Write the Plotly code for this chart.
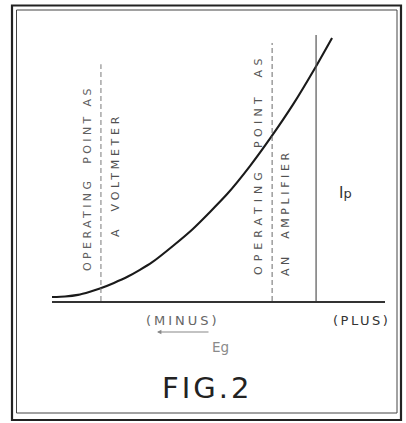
import plotly.graph_objects as go

# Canvas size (body margin is removed by the post script, so no offset)
W, H = 406, 423
OFF = 0
FW, FH = W - OFF, H - OFF

# Curve data (arbitrary units): grid voltage Eg vs plate current Ip
eg = [0.0, 0.39, 0.78, 1.14, 1.44, 1.86, 2.28, 2.64, 3.00, 3.63, 4.23, 5.26, 5.95, 6.55, 7.24, 7.90, 8.41]
ip = [0.15, 0.17, 0.23, 0.35, 0.47, 0.68, 0.92, 1.17, 1.45, 2.07, 2.71, 4.02, 5.08, 6.11, 7.39, 8.76, 9.89]

# Vertical reference lines: (Eg position, top of line)
voltmeter_eg, voltmeter_top = 1.47, 8.9
amplifier_eg, amplifier_top = 6.61, 9.7
ip_axis_eg, ip_axis_top = 7.93, 10.1


def px(x):
    return (x - OFF) / FW


def py(y):
    return 1 - (y - OFF) / FH


fig = go.Figure()

fig.add_trace(go.Scatter(x=eg, y=ip, mode="lines",
                         line=dict(color="#1a1a1a", width=2.1, shape="spline", smoothing=0.6),
                         hoverinfo="skip", showlegend=False))

for xv, top, dash, col, w in [
    (voltmeter_eg, voltmeter_top, "5px,3px", "#7a7a7a", 1),
    (amplifier_eg, amplifier_top, "5px,3px", "#6a6a6a", 1),
    (ip_axis_eg, ip_axis_top, "solid", "#555555", 1.2),
]:
    fig.add_trace(go.Scatter(x=[xv, xv], y=[0, top], mode="lines",
                             line=dict(color=col, width=w, dash=dash),
                             hoverinfo="skip", showlegend=False))

# Frame (double border)
fig.add_shape(type="rect", xref="paper", yref="paper",
              x0=px(12), x1=px(401), y0=py(420), y1=py(5.5),
              line=dict(color="#222222", width=2.2))
fig.add_shape(type="rect", xref="paper", yref="paper",
              x0=px(16.5), x1=px(397), y0=py(413), y1=py(10),
              line=dict(color="#444444", width=1))

font = "DejaVu Sans"


def label(text, x, y, size, color, angle=0, ls=0):
    t = text
    if ls:
        t = f'<span style="letter-spacing:{ls}px">{text}</span>'
    fig.add_annotation(text=t, x=px(x), y=py(y), xref="paper", yref="paper",
                       showarrow=False, textangle=angle,
                       xanchor="center", yanchor="middle",
                       font=dict(family=font, size=size, color=color))


label("OPERATING&nbsp;&nbsp;POINT&nbsp;AS", 88, 178, 11, "#606060", -90, 3.4)
label("A&nbsp;&nbsp;VOLTMETER", 115, 175, 11, "#505050", -90, 3.7)
label("OPERATING", 258, 221, 11, "#555555", -90, 5)
label("POINT&nbsp;&nbsp;AS", 258, 101, 11, "#555555", -90, 4.3)
label("AN&nbsp;&nbsp;AMPLIFIER", 286, 213, 11, "#505050", -90, 3.6)
label("I<span style='font-size:13px'>p</span>", 345, 193, 15, "#333333")
label("(MINUS)", 183, 320, 13, "#666666", 0, 3)
label("(PLUS)", 361, 320, 13, "#333333", 0, 2.5)
label("Eg", 220, 347, 13.5, "#8a8a8a")
label("FIG.2", 207, 388, 29, "#222222", 0, 3)

# Arrow under (MINUS)
fig.add_annotation(x=px(157), y=py(332), xref="paper", yref="paper",
                   ax=53, ay=0, text="", showarrow=True,
                   arrowhead=2, arrowsize=0.8, arrowwidth=1.1, arrowcolor="#888888")

fig.update_layout(
    width=FW, height=FH,
    margin=dict(l=0, r=0, t=0, b=0),
    paper_bgcolor="white", plot_bgcolor="white",
    xaxis=dict(domain=[px(52), px(385)], range=[0, 10], showgrid=False, zeroline=False,
               showticklabels=False, ticks="", showline=True, linecolor="#333333",
               linewidth=1.5, fixedrange=True),
    yaxis=dict(domain=[py(301), py(35)], range=[0, 10], showgrid=False, zeroline=False,
               showticklabels=False, ticks="", showline=False, fixedrange=True),
    showlegend=False,
)

fig.write_html("out.html", config={"displayModeBar": False},
               post_script="document.body.style.margin='0';document.body.style.overflow='hidden';")
